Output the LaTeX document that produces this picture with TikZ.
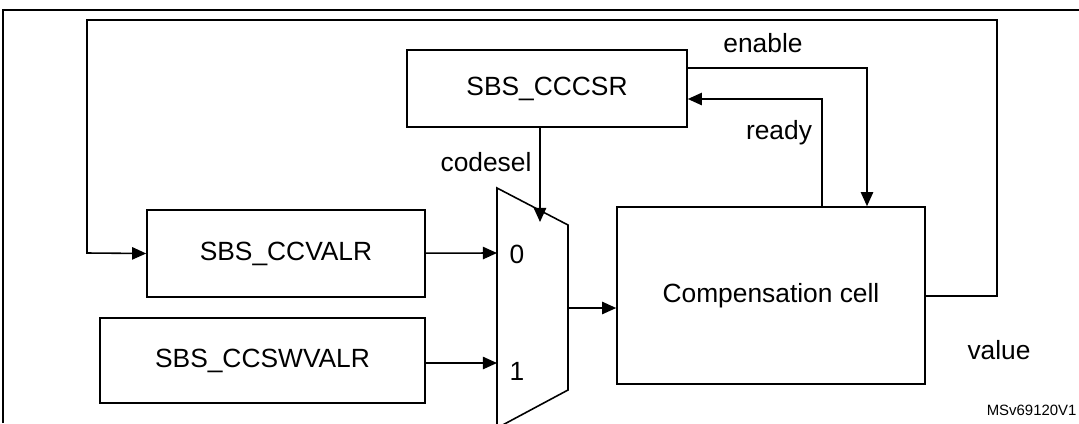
\documentclass[tikz,border=0pt]{standalone}
\usepackage{fontspec}
\setmainfont{Liberation Sans}
\usepackage{tikz}
\usetikzlibrary{arrows.meta, calc, positioning}
\tikzset{%
  every path/.style={line width=0.9pt},
    edge/.style={%
        ->,
        >={Triangle[length=8pt,width=7pt]},
    },
    reg/.style={%
        rectangle,
        draw=black,
        font=\fontsize{15}{18}\selectfont,
        text centered,
        inner sep=0pt,
    },
    lbl/.style={%
        font=\fontsize{15}{18}\selectfont,
    },
}

\begin{document}
\begin{tikzpicture}[x=0.02cm, y=-0.02cm]
	\useasboundingbox (0,0) rectangle (1079,423);
	\draw (3,423) -- (3,10) -- (1085,10);

	\node [reg, minimum width=280*0.02cm, minimum height=77*0.02cm] at (547,88.5) (cccsr) {SBS\_CCCSR};
	\node [reg, minimum width=278*0.02cm, minimum height=87*0.02cm] at (286,253.5) (ccvalr) {SBS\_CCVALR};
	\node [reg, minimum width=325*0.02cm, minimum height=85*0.02cm] at (262.5,360.5) (ccswvalr) {SBS\_CCSWVALR};
	\node [reg, minimum width=308*0.02cm, minimum height=177*0.02cm] at (771,295.5) (cell) {Compensation cell};

	% multiplexer
	\coordinate (mux_nw) at (497,188);
	\coordinate (mux_ne) at (568,225);
	\coordinate (mux_se) at (568,390);
	\coordinate (mux_sw) at (497,428);
	\draw (mux_sw) -- (mux_nw) -- (mux_ne) -- (mux_se) -- (mux_sw);
	\coordinate (mux_in0) at (497,253);
	\coordinate (mux_in1) at (497,363);
	\coordinate (mux_sel) at (540,222);
	\coordinate (mux_out) at (568,308);
	\node [lbl, anchor=west] at (503,254) (in0) {0};
	\node [lbl, anchor=west] at (503,371) (in1) {1};

	\draw[edge] (ccvalr) -- (mux_in0);
	\draw[edge] (ccswvalr.east |- mux_in1) -- (mux_in1);
	\draw[edge] (mux_out) -- (cell.west |- mux_out);
	\draw[edge] (cccsr.south -| mux_sel) -- (mux_sel);

	\draw[edge] (cccsr.east |- 0,68) -| (cell.north -| 867,0);
	\draw[edge] (cell.north -| 822,0) |- (cccsr.east |- 0,99);
	\draw[edge] (cell.east |- 0,296) -| (997,20) -| (87,253) -- (ccvalr.west);

	\node [lbl] at (486,162) (codesel) {codesel};
	\node [lbl] at (763,43) (enable) {enable};
	\node [lbl] at (779,133) (ready) {ready};
	\node [lbl] at (999,350) (value) {value};
	\node [font=\fontsize{8.5}{10}\selectfont, anchor=east, inner sep=1pt] at (1079,410) (ref) {MSv69120V1};
\end{tikzpicture}
\end{document}
